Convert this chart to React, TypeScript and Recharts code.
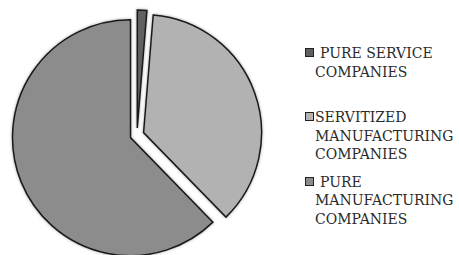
import React from 'react';
import { PieChart, Pie, Cell, Legend } from 'recharts';

const categories = ['PURE SERVICE COMPANIES', 'SERVITIZED MANUFACTURING COMPANIES', 'PURE MANUFACTURING COMPANIES'];
const shares = [1.3, 36.4, 62.3];
const colors = ['#606060', '#b2b2b2', '#8c8c8c'];

const data = categories.map((name, i) => ({ name, value: shares[i] }));

const CX = 137;
const CY = 135;
const RADIUS = 118;
const EXPLODE = 7;

const FONT = '"DejaVu Serif", serif';

const total = shares.reduce((a, b) => a + b, 0);
// offset of each exploded slice along its mid angle (clockwise from 12 o'clock)
const offsets = shares.map((v, i) => {
  const before = shares.slice(0, i).reduce((a, b) => a + b, 0);
  const mid = ((before + v / 2) / total) * 2 * Math.PI;
  return { dx: EXPLODE * Math.sin(mid), dy: -EXPLODE * Math.cos(mid) };
});

const indents = [5, 0, 5];
const gaps = [27, 9, 0];

function LegendBox() {
  return (
    <div style={{ fontFamily: FONT, fontSize: 14, color: '#2a2a2a', lineHeight: '18.5px' }}>
      {data.map((d, i) => (
        <div key={d.name} style={{ position: 'relative', paddingLeft: 10, marginBottom: gaps[i], width: 144 }}>
          <span
            style={{
              position: 'absolute',
              left: 0,
              top: 4,
              width: 7,
              height: 7,
              background: colors[i],
              border: '1px solid #222',
            }}
          />
          <div style={{ textIndent: indents[i] }}>{d.name}</div>
        </div>
      ))}
    </div>
  );
}

export default function App() {
  return (
    <div style={{ position: 'absolute', left: 0, top: 0, width: 459, height: 255, background: '#fff', overflow: 'hidden' }}>
      <PieChart width={459} height={255} margin={{ top: 0, right: 0, bottom: 0, left: 0 }}>
        {data.map((_, k) => (
          <Pie
            key={k}
            data={data}
            dataKey="value"
            nameKey="name"
            cx={CX + offsets[k].dx}
            cy={CY + offsets[k].dy}
            outerRadius={RADIUS}
            startAngle={90}
            endAngle={-270}
            isAnimationActive={false}
            legendType="none"
            style={{ filter: 'drop-shadow(0 0 1.5px rgba(0,0,0,0.35))' }}
          >
            {data.map((d, i) => (
              <Cell
                key={d.name}
                fill={i === k ? colors[i] : 'none'}
                stroke={i === k ? '#1a1a1a' : 'none'}
                strokeWidth={1.5}
              />
            ))}
          </Pie>
        ))}
        <Legend content={() => <LegendBox />} wrapperStyle={{ position: 'absolute', left: 305, top: 44, width: 154 }} />
      </PieChart>
    </div>
  );
}
